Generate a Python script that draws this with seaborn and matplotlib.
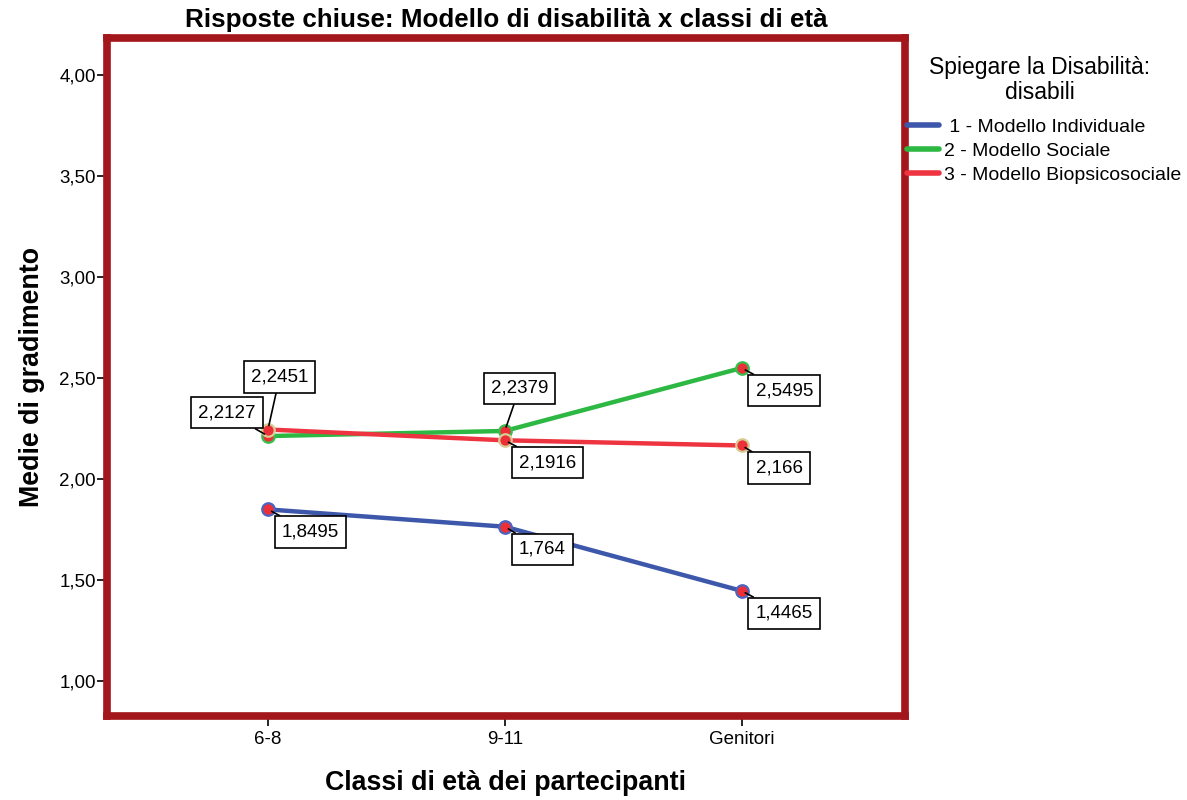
import seaborn as sns
import pandas as pd
import matplotlib.pyplot as plt
from matplotlib.ticker import FuncFormatter

classi = ['6-8', '9-11', 'Genitori']
modelli = [' 1 - Modello Individuale', '2 - Modello Sociale', '3 - Modello Biopsicosociale']
individuale = [1.8495, 1.764, 1.4465]
sociale = [2.2127, 2.2379, 2.5495]
biopsicosociale = [2.2451, 2.1916, 2.166]
etichette = {
    modelli[0]: ['1,8495', '1,764', '1,4465'],
    modelli[1]: ['2,2127', '2,2379', '2,5495'],
    modelli[2]: ['2,2451', '2,1916', '2,166'],
}

colori = ['#3d57ab', '#2cb842', '#ee3440']
bordi_marker = ['#4a64c0', '#36bf4c', '#d9cb94']

sns.set_style('white')
plt.rcParams['font.family'] = ['Liberation Sans', 'DejaVu Sans']
plt.rcParams['text.color'] = 'black'
plt.rcParams['axes.labelcolor'] = 'black'
plt.rcParams['xtick.color'] = 'black'
plt.rcParams['ytick.color'] = 'black'

df = pd.DataFrame({
    'classe': classi * 3,
    'modello': [m for m in modelli for _ in classi],
    'media': individuale + sociale + biopsicosociale,
})

fig = plt.figure(figsize=(11.87, 8), dpi=100)
ax = fig.add_axes([0.0901, 0.105, 0.6723, 0.8475])

sns.lineplot(data=df, x='classe', y='media', hue='modello', palette=colori,
             hue_order=modelli, sort=False, linewidth=3.2, marker='o', markersize=9,
             markerfacecolor='#ec3038', markeredgewidth=1.6, ax=ax, legend=True)
for line, ec in zip(ax.lines[:3], bordi_marker):
    line.set_markeredgecolor(ec)

# offsets of the value boxes (pixels) per series and point
offsets = {
    modelli[0]: [(14, -14), (14, -14), (14, -14)],
    modelli[1]: [(-12, 15), (-14, 34), (14, -14)],
    modelli[2]: [(-17, 44), (14, -14), (14, -14)],
}
align = {
    modelli[0]: [('left', 'top')] * 3,
    modelli[1]: [('right', 'bottom'), ('left', 'bottom'), ('left', 'top')],
    modelli[2]: [('left', 'bottom'), ('left', 'top'), ('left', 'top')],
}
valori = {modelli[0]: individuale, modelli[1]: sociale, modelli[2]: biopsicosociale}
for m in modelli:
    for i, (v, lab) in enumerate(zip(valori[m], etichette[m])):
        ha, va = align[m][i]
        ax.annotate(lab, xy=(i, v), xytext=offsets[m][i], textcoords='offset pixels',
                    ha=ha, va=va, fontsize=13.5, zorder=5,
                    bbox=dict(boxstyle='square,pad=0.38', fc='white', ec='black', lw=1.2),
                    arrowprops=dict(arrowstyle='-', color='black', lw=1.2, shrinkA=0, shrinkB=3))

ax.set_xlim(-0.68, 2.69)
ax.set_ylim(0.827, 4.183)
ax.set_yticks([1, 1.5, 2, 2.5, 3, 3.5, 4])
ax.yaxis.set_major_formatter(FuncFormatter(lambda v, p: f'{v:.2f}'.replace('.', ',')))
ax.tick_params(axis='both', which='both', direction='out', length=7, width=1.2,
               color='black', labelsize=13.5, left=True, bottom=True)
ax.tick_params(axis='y', pad=1)

for s in ax.spines.values():
    s.set_color('#a3161c')
    s.set_linewidth(5.5)

ax.set_title('Risposte chiuse: Modello di disabilità x classi di età',
             fontsize=18.7, fontweight='bold', pad=8)
ax.set_xlabel('Classi di età dei partecipanti', fontsize=19.3, fontweight='bold', labelpad=16)
ax.set_ylabel('Medie di gradimento', fontsize=19.3, fontweight='bold', labelpad=10)

handles, labels = ax.get_legend_handles_labels()
for h in handles:
    h.set_marker('')
    h.set_linewidth(4)
fig.text(1040 / 1187, 1 - 56 / 800, 'Spiegare la Disabilità:\ndisabili', ha='center', va='top',
         fontsize=16.5, multialignment='center', linespacing=1.1)
ax.legend(handles, labels, loc='upper left', bbox_to_anchor=(907 / 1187, 1 - 118 / 800),
          bbox_transform=fig.transFigure, frameon=False, fontsize=14,
          handlelength=1.65, handletextpad=0.25, labelspacing=0.33,
          borderaxespad=0, borderpad=0)

fig.savefig('out.png', dpi=100)
